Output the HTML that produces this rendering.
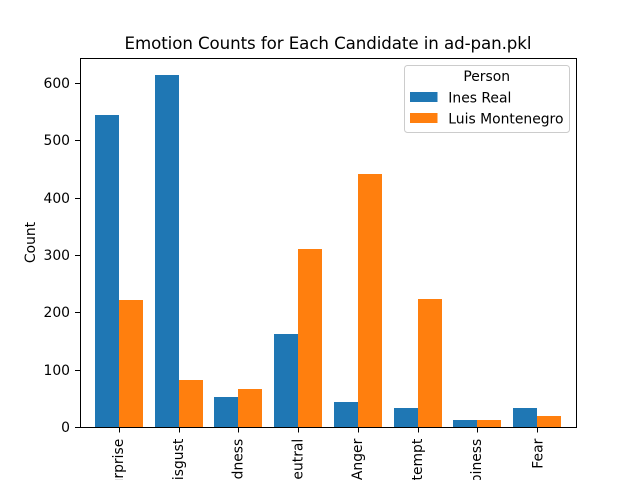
<!DOCTYPE html>
<html>
<head>
<meta charset="utf-8">
<title>Emotion Counts for Each Candidate in ad-pan.pkl</title>
<style>
html,body{margin:0;padding:0;background:#fff;width:640px;height:480px;overflow:hidden}
svg{display:block}
text{font-family:"DejaVu Sans","Liberation Sans",sans-serif;fill:#000}
</style>
</head>
<body>
<svg id="chart" width="640" height="480" viewBox="0 0 640 480" xmlns="http://www.w3.org/2000/svg">
<g id="bars"></g>
<g id="xticks"></g>
<g id="yticks"></g>
<rect x="80.500" y="58.500" width="496" height="369" fill="none" stroke="#000" stroke-width="1"/>
<text x="328" y="49" font-size="16.670" text-anchor="middle" textLength="407" lengthAdjust="spacing">Emotion Counts for Each Candidate in ad-pan.pkl</text>
<text transform="translate(35,242.500) rotate(-90)" font-size="13.900" text-anchor="middle">Count</text>
<g id="legend">
<rect x="404.500" y="65.500" width="165" height="67" rx="3" fill="#fff" fill-opacity="0.8" stroke="#ccc" stroke-width="1"/>
<text x="486.700" y="81" font-size="13.900" text-anchor="middle">Person</text>
</g>
</svg>
<script>
const categories = ["Surprise", "Disgust", "Sadness", "Neutral", "Anger", "Contempt", "Happiness", "Fear"];
const seriesNames = ["Ines Real", "Luis Montenegro"];
const inesRealCounts = [544, 614, 52, 162, 44, 33, 12, 33];
const luisMontenegroCounts = [221, 82, 66, 310, 441, 223, 12, 19];
const yTickLabels = [0, 100, 200, 300, 400, 500, 600];

const NS = 'http://www.w3.org/2000/svg';
const plotLeft = 80, plotRight = 576, plotTop = 58, plotBottom = 427;
const yMax = 643.6;
const xSpan = categories.length + 0.3;
const colors = ['#1f77b4', '#ff7f0e'];

function xScale(v) { return plotLeft + (v + 0.65) * (plotRight - plotLeft) / xSpan; }
function yScale(v) { return plotBottom - v * (plotBottom - plotTop) / yMax; }
function labelOffset(c) {
  if (/[gpqyj]/.test(c)) return 3.5;
  if (/[dlbhk]/.test(c)) return 4;
  return 5;
}
function make(tag, attrs, parent) {
  const el = document.createElementNS(NS, tag);
  for (const k in attrs) el.setAttribute(k, attrs[k]);
  parent.appendChild(el);
  return el;
}

const barsG = document.getElementById('bars');
[inesRealCounts, luisMontenegroCounts].forEach(function (series, s) {
  series.forEach(function (v, i) {
    const x0 = Math.round(xScale(i - 0.4 + 0.4 * s));
    const x1 = Math.round(xScale(i + 0.4 * s));
    const top = Math.round(yScale(v));
    const r = make('rect', { x: x0, y: top, width: x1 - x0, height: plotBottom - top, fill: colors[s] }, barsG);
    
    
  });
});

const xG = document.getElementById('xticks');
categories.forEach(function (c, i) {
  const x = Math.round(xScale(i)) + 0.5;
  const t = make('line', { x1: x, x2: x, y1: plotBottom, y2: plotBottom + 5.5, stroke: '#000', 'stroke-width': 1 }, xG);
  
  
  const l = make('text', { transform: 'translate(' + (x + labelOffset(c)) + ',' + (plotBottom + 11.7) + ') rotate(-90)', 'font-size': 13.9, 'text-anchor': 'end' }, xG);
  
  
  l.textContent = c;
});

const yG = document.getElementById('yticks');
yTickLabels.forEach(function (v) {
  const y = Math.round(yScale(v)) + 0.5;
  const t = make('line', { x1: plotLeft - 5, x2: plotLeft, y1: y, y2: y, stroke: '#000', 'stroke-width': 1 }, yG);
  
  
  const l = make('text', { x: plotLeft - 10, y: y + 4.5, 'font-size': 13.9, 'text-anchor': 'end' }, yG);
  
  
  l.textContent = v;
});

const legendG = document.getElementById('legend');
seriesNames.forEach(function (n, i) {
  const top = 92 + i * 21;
  const sw = make('rect', { x: 410, y: top, width: 27.5, height: 10, fill: colors[i] }, legendG);
  
  
  const l = make('text', { x: 448.3, y: top + 10.5, 'font-size': 13.9 }, legendG);
  
  
  l.textContent = n;
});
</script>
</body>
</html>
